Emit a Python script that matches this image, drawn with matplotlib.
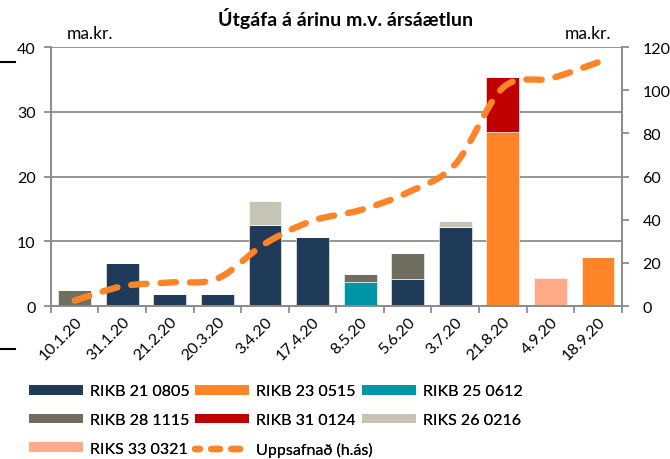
import numpy as np
import matplotlib
matplotlib.use("Agg")
import matplotlib.pyplot as plt
from matplotlib.path import Path
from matplotlib.patches import PathPatch, Patch
from matplotlib.lines import Line2D

plt.rcParams['font.family'] = ['Lato', 'DejaVu Sans']

# auction dates and amounts sold (ma.kr.) per bond series
dates = ['10.1.20', '31.1.20', '21.2.20', '20.3.20', '3.4.20', '17.4.20',
         '8.5.20', '5.6.20', '3.7.20', '21.8.20', '4.9.20', '18.9.20']
rikb21 = [0, 6.6, 1.8, 1.8, 12.5, 10.6, 0, 4.1, 12.2, 0, 0, 0]
rikb23 = [0, 0, 0, 0, 0, 0, 0, 0, 0, 26.8, 0, 7.5]
rikb25 = [0, 0, 0, 0, 0, 0, 3.7, 0, 0, 0, 0, 0]
rikb28 = [2.5, 0, 0, 0, 0, 0, 1.2, 4.1, 0, 0, 0, 0]
rikb31 = [0, 0, 0, 0, 0, 0, 0, 0, 0, 8.6, 0, 0]
riks26 = [0, 0, 0, 0, 3.7, 0, 0, 0, 0.9, 0, 0, 0]
riks33 = [0, 0, 0, 0, 0, 0, 0, 0, 0, 0, 4.3, 0]

series = [('RIKB 21 0805', rikb21, '#203a5a'),
          ('RIKB 23 0515', rikb23, '#ff8427'),
          ('RIKB 25 0612', rikb25, '#0096a8'),
          ('RIKB 28 1115', rikb28, '#706f5f'),
          ('RIKB 31 0124', rikb31, '#c00000'),
          ('RIKS 26 0216', riks26, '#c6c4b4'),
          ('RIKS 33 0321', riks33, '#ffab88')]

axis_grey = '#8c8c8c'
line_orange = '#ff8427'

fig = plt.figure(figsize=(6.7, 4.6), dpi=100)
ax = fig.add_axes([0.076, 0.3326, 0.852, 0.563])
ax2 = ax.twinx()

x = np.arange(len(dates))
bottom = np.zeros(len(dates))
handles = []
for name, vals, col in series:
    vals = np.array(vals, dtype=float)
    ax.bar(x, vals, width=0.69, bottom=bottom, color=col, zorder=2,
           edgecolor='white', linewidth=0.4)
    bottom += vals
    handles.append(Patch(facecolor=col, label=name))

# running total on the right axis, drawn as a smooth curve
cum = np.cumsum(bottom)
pts = np.column_stack([x, cum])
verts = [pts[0]]
codes = [Path.MOVETO]
n = len(pts)
for i in range(n - 1):
    p0 = pts[max(i - 1, 0)]
    p1 = pts[i]
    p2 = pts[i + 1]
    p3 = pts[min(i + 2, n - 1)]
    c1 = p1 + (p2 - p0) / 6.0
    c2 = p2 - (p3 - p1) / 6.0
    verts += [c1, c2, p2]
    codes += [Path.CURVE4] * 3
curve = PathPatch(Path(verts, codes), facecolor='none', edgecolor=line_orange,
                  linewidth=4.6, linestyle=(0, (2.4, 2.2)), capstyle='round',
                  zorder=5)
ax2.add_patch(curve)

ax.set_xlim(-0.5, len(dates) - 0.5)
ax.set_ylim(0, 40)
ax2.set_ylim(0, 120)
ax.set_yticks([0, 10, 20, 30, 40])
ax2.set_yticks([0, 20, 40, 60, 80, 100, 120])
ax.grid(axis='y', color=axis_grey, linewidth=1.3, zorder=0)
ax.set_axisbelow(True)

ax.set_xticks(x)
ax.set_xticklabels(dates, rotation=45, ha='right', va='top',
                   rotation_mode='anchor', fontsize=11.5)
ax.set_xticks(np.arange(-0.5, len(dates)), minor=True)
ax.tick_params(axis='x', which='major', length=0, pad=6)
ax.tick_params(axis='x', which='minor', length=5, width=1.3, color=axis_grey)
ax.tick_params(axis='y', length=5, width=1.3, color=axis_grey, labelsize=11.5,
               pad=6)
ax2.tick_params(axis='y', length=5, width=1.3, color=axis_grey, labelsize=11.5,
                pad=10)

for a in (ax, ax2):
    a.spines['top'].set_visible(False)
    for s in ('left', 'right', 'bottom'):
        a.spines[s].set_color(axis_grey)
        a.spines[s].set_linewidth(1.3)

fig.text(0.516, 0.96, 'Útgáfa á árinu m.v. ársáætlun', ha='center',
         va='center', fontsize=14, fontweight='bold')
fig.text(0.1, 0.926, 'ma.kr.', ha='left', va='center', fontsize=12.5)
fig.text(0.912, 0.926, 'ma.kr.', ha='right', va='center', fontsize=12.5)

# small marks at the left edge
fig.add_artist(Line2D([0, 0.022], [0.863, 0.863], color='black', lw=1.5))
fig.add_artist(Line2D([0, 0.022], [0.24, 0.24], color='black', lw=1.5))

handles.append(Line2D([0], [0], color=line_orange, lw=4.6,
                      linestyle=(0.6, (1.35, 1.8)), dash_capstyle='round',
                      label='Uppsafnað (h.ás)'))

# legend in three columns, each placed on its own
columns = [[0, 3, 6], [1, 4, 7], [2, 5]]
col_x = [0.043, 0.291, 0.540]
for idx, cx in zip(columns, col_x):
    leg = fig.legend([handles[i] for i in idx],
                     [handles[i].get_label() for i in idx],
                     loc='upper left', bbox_to_anchor=(cx, 0.162),
                     frameon=False, fontsize=11.5, handlelength=3.4,
                     handleheight=0.55, handletextpad=0.45,
                     labelspacing=0.92, borderpad=0, borderaxespad=0)
    fig.add_artist(leg)

fig.savefig('out.png', dpi=100)
